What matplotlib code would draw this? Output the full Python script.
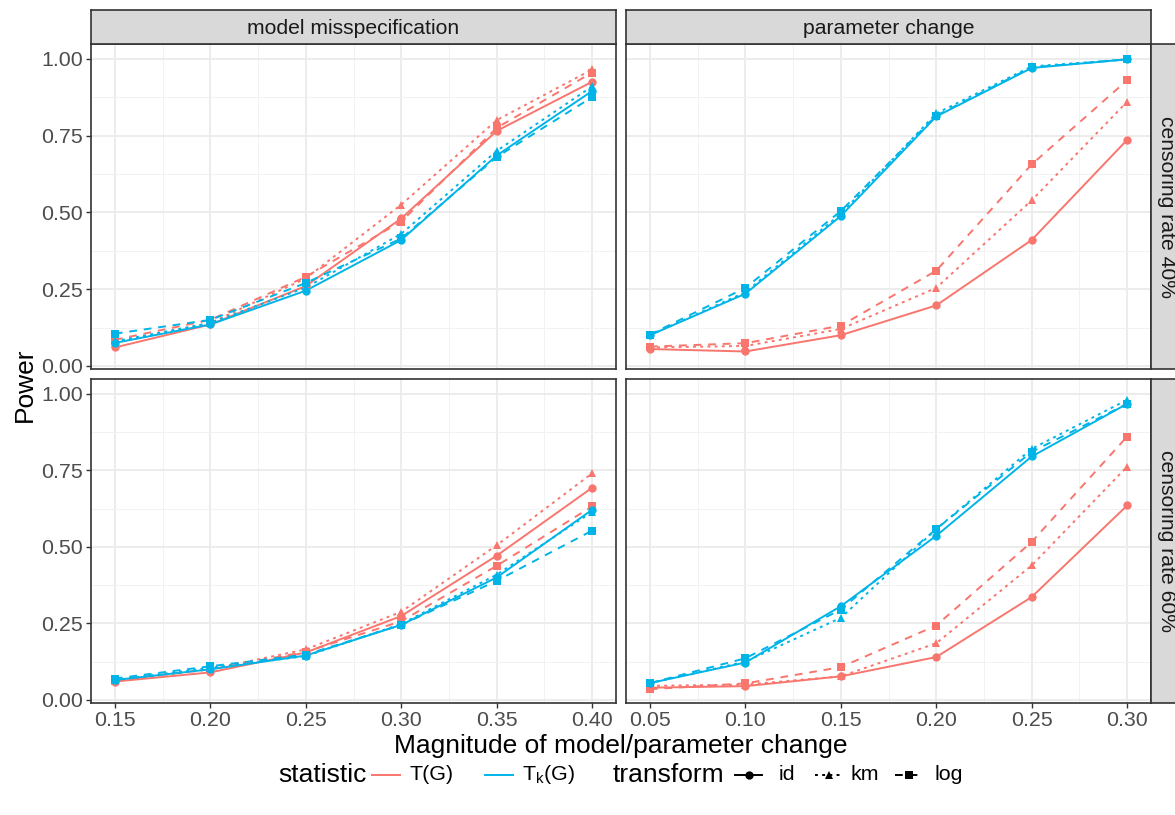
import matplotlib
matplotlib.use("Agg")
import matplotlib.pyplot as plt
from matplotlib.lines import Line2D

plt.rcParams['font.family'] = ['Liberation Sans', 'DejaVu Sans']
plt.rcParams['mathtext.fontset'] = 'custom'
plt.rcParams['mathtext.rm'] = 'Liberation Sans'
plt.rcParams['mathtext.it'] = 'Liberation Sans'

# ---------------- data ----------------
x_model = [0.15, 0.20, 0.25, 0.30, 0.35, 0.40]
x_param = [0.05, 0.10, 0.15, 0.20, 0.25, 0.30]

# model misspecification, censoring rate 40%
mm40_T_id = [0.060, 0.135, 0.260, 0.480, 0.765, 0.925]
mm40_T_km = [0.075, 0.140, 0.285, 0.525, 0.800, 0.965]
mm40_T_log = [0.085, 0.150, 0.290, 0.470, 0.775, 0.955]
mm40_Tk_id = [0.075, 0.135, 0.245, 0.410, 0.685, 0.895]
mm40_Tk_km = [0.080, 0.140, 0.255, 0.430, 0.700, 0.910]
mm40_Tk_log = [0.105, 0.150, 0.270, 0.415, 0.680, 0.875]

# parameter change, censoring rate 40%
pc40_T_id = [0.055, 0.047, 0.100, 0.197, 0.410, 0.736]
pc40_T_km = [0.060, 0.065, 0.120, 0.254, 0.539, 0.860]
pc40_T_log = [0.063, 0.074, 0.131, 0.310, 0.656, 0.930]
pc40_Tk_id = [0.100, 0.235, 0.488, 0.812, 0.970, 0.998]
pc40_Tk_km = [0.100, 0.240, 0.495, 0.822, 0.975, 0.998]
pc40_Tk_log = [0.102, 0.254, 0.504, 0.815, 0.972, 0.998]

# model misspecification, censoring rate 60%
mm60_T_id = [0.060, 0.090, 0.155, 0.274, 0.471, 0.693]
mm60_T_km = [0.062, 0.100, 0.165, 0.288, 0.505, 0.740]
mm60_T_log = [0.065, 0.100, 0.157, 0.257, 0.438, 0.632]
mm60_Tk_id = [0.065, 0.100, 0.145, 0.245, 0.400, 0.621]
mm60_Tk_km = [0.065, 0.105, 0.143, 0.248, 0.409, 0.614]
mm60_Tk_log = [0.070, 0.110, 0.148, 0.245, 0.389, 0.553]

# parameter change, censoring rate 60%
pc60_T_id = [0.040, 0.045, 0.077, 0.140, 0.336, 0.635]
pc60_T_km = [0.046, 0.050, 0.077, 0.185, 0.439, 0.762]
pc60_T_log = [0.035, 0.054, 0.107, 0.243, 0.516, 0.860]
pc60_Tk_id = [0.055, 0.122, 0.306, 0.536, 0.795, 0.967]
pc60_Tk_km = [0.055, 0.125, 0.268, 0.558, 0.820, 0.980]
pc60_Tk_log = [0.055, 0.136, 0.295, 0.558, 0.810, 0.967]

col_labels = ["model misspecification", "parameter change"]
row_labels = ["censoring rate 40%", "censoring rate 60%"]
y_ticks = [0.00, 0.25, 0.50, 0.75, 1.00]
y_ticklabels = ["0.00", "0.25", "0.50", "0.75", "1.00"]
stat_labels = ["T(G)", "T$_\\mathrm{k}$(G)"]
trans_labels = ["id", "km", "log"]

# ---------------- styles ----------------
RED = "#F8766D"
BLUE = "#00B4E8"
stat_colors = [RED, BLUE]
trans_markers = ["o", "^", "s"]
trans_ls = ["-", (0, (1.5, 2.2)), (0, (4, 3.5))]
LW = 1.4
MS = 6.0
GRID_MAJ = "#EBEBEB"
BORDER = "#333333"
TICKCOL = "#4D4D4D"

panels = {
    (0, 0): (x_model, [[mm40_T_id, mm40_T_km, mm40_T_log], [mm40_Tk_id, mm40_Tk_km, mm40_Tk_log]]),
    (0, 1): (x_param, [[pc40_T_id, pc40_T_km, pc40_T_log], [pc40_Tk_id, pc40_Tk_km, pc40_Tk_log]]),
    (1, 0): (x_model, [[mm60_T_id, mm60_T_km, mm60_T_log], [mm60_Tk_id, mm60_Tk_km, mm60_Tk_log]]),
    (1, 1): (x_param, [[pc60_T_id, pc60_T_km, pc60_T_log], [pc60_Tk_id, pc60_Tk_km, pc60_Tk_log]]),
}

W, H = 1175, 815
fig = plt.figure(figsize=(W / 100, H / 100), dpi=100)

def fx(px):
    return px / W

def fy(py):
    return 1 - py / H

col_x = [(91, 616), (626, 1151)]
row_y = [(44, 369), (379, 703)]

ylim = (-0.01, 1.048)

for (r, c), (xs, series) in panels.items():
    x0, x1 = col_x[c]
    y0, y1 = row_y[r]
    ax = fig.add_axes([fx(x0), fy(y1), fx(x1 - x0), (y1 - y0) / H])
    ax.set_facecolor("white")
    xmin, xmax = min(xs), max(xs)
    span = xmax - xmin
    ax.set_xlim(xmin - 0.05 * span, xmax + 0.05 * span)
    ax.set_ylim(*ylim)
    ax.set_xticks(xs)
    ax.set_xticks([(a + b) / 2 for a, b in zip(xs[:-1], xs[1:])], minor=True)
    ax.set_yticks(y_ticks)
    ax.set_yticks([0.125, 0.375, 0.625, 0.875], minor=True)
    ax.grid(True, which="major", color=GRID_MAJ, linewidth=1.3, zorder=0)
    ax.grid(True, which="minor", color="#F2F2F2", linewidth=0.7, zorder=0)
    ax.set_axisbelow(True)
    for sp in ax.spines.values():
        sp.set_color(BORDER)
        sp.set_linewidth(1.2)
        sp.set_zorder(5)
    ax.tick_params(which="minor", length=0)
    ax.tick_params(which="major", length=3.5, width=1.0, color=BORDER,
                   labelsize=15.4, labelcolor=TICKCOL, pad=2)
    if c == 0:
        ax.set_yticklabels(y_ticklabels)
    else:
        ax.tick_params(axis="y", which="major", length=0, labelleft=False)
    if r == 1:
        ax.set_xticklabels([f"{v:.2f}" for v in xs])
    else:
        ax.tick_params(axis="x", which="major", length=0, labelbottom=False)

    # lines first, then points
    for si, stat in enumerate(series):
        for ti, ys in enumerate(stat):
            ax.plot(xs, ys, color=stat_colors[si], linestyle=trans_ls[ti],
                    linewidth=LW, zorder=2 + si)
    for si, stat in enumerate(series):
        for ti, ys in enumerate(stat):
            ax.plot(xs, ys, color=stat_colors[si], linestyle="none",
                    marker=trans_markers[ti], markersize=MS, markeredgewidth=0,
                    zorder=3 + si)

# top strips
for c in range(2):
    x0, x1 = col_x[c]
    sax = fig.add_axes([fx(x0), fy(44), fx(x1 - x0), 34 / H])
    sax.set_xticks([]); sax.set_yticks([])
    sax.set_facecolor("#D9D9D9")
    for sp in sax.spines.values():
        sp.set_color(BORDER); sp.set_linewidth(1.2)
    sax.text(0.5, 0.47, col_labels[c], ha="center", va="center", fontsize=15.2,
             color="#1A1A1A", transform=sax.transAxes)

# right strips
for r in range(2):
    y0, y1 = row_y[r]
    sax = fig.add_axes([fx(1151), fy(y1), fx(34), (y1 - y0) / H])
    sax.set_xticks([]); sax.set_yticks([])
    sax.set_facecolor("#D9D9D9")
    for sp in sax.spines.values():
        sp.set_color(BORDER); sp.set_linewidth(1.2)
    sax.text(0.47, 0.5, row_labels[r], ha="center", va="center", fontsize=15.2,
             color="#1A1A1A", rotation=-90, transform=sax.transAxes)

# axis titles
fig.text(fx(25), fy(385), "Power", rotation=90, ha="center", va="center",
         fontsize=19, color="black")
fig.text(fx(621), fy(746), "Magnitude of model/parameter change", ha="center",
         va="center", fontsize=19, color="black")

# legend
ly = fy(775)
fig.text(fx(278), ly, "statistic", ha="left", va="center", fontsize=19)
key_x = [(372, 400), (485, 513)]
lab_x = [410, 522]
for i in range(2):
    a, b = key_x[i]
    fig.add_artist(Line2D([fx(a), fx(b)], [ly, ly], color=stat_colors[i],
                          linewidth=LW, transform=fig.transFigure))
    fig.text(fx(lab_x[i]), ly, stat_labels[i], ha="left", va="center", fontsize=15.4)

fig.text(fx(613), ly, "transform", ha="left", va="center", fontsize=19)
tkey_x = [(735, 762), (815, 842), (895, 922)]
tlab_x = [779, 851, 935]
for i in range(3):
    a, b = tkey_x[i]
    fig.add_artist(Line2D([fx(a), fx(b)], [ly, ly], color="black",
                          linewidth=LW, linestyle=trans_ls[i],
                          transform=fig.transFigure))
    fig.add_artist(Line2D([fx((a + b) / 2)], [ly], color="black", linestyle="none",
                          marker=trans_markers[i], markersize=MS, markeredgewidth=0,
                          transform=fig.transFigure))
    fig.text(fx(tlab_x[i]), ly, trans_labels[i], ha="left", va="center", fontsize=15.4)

fig.savefig("out.png", dpi=100, facecolor="white")
